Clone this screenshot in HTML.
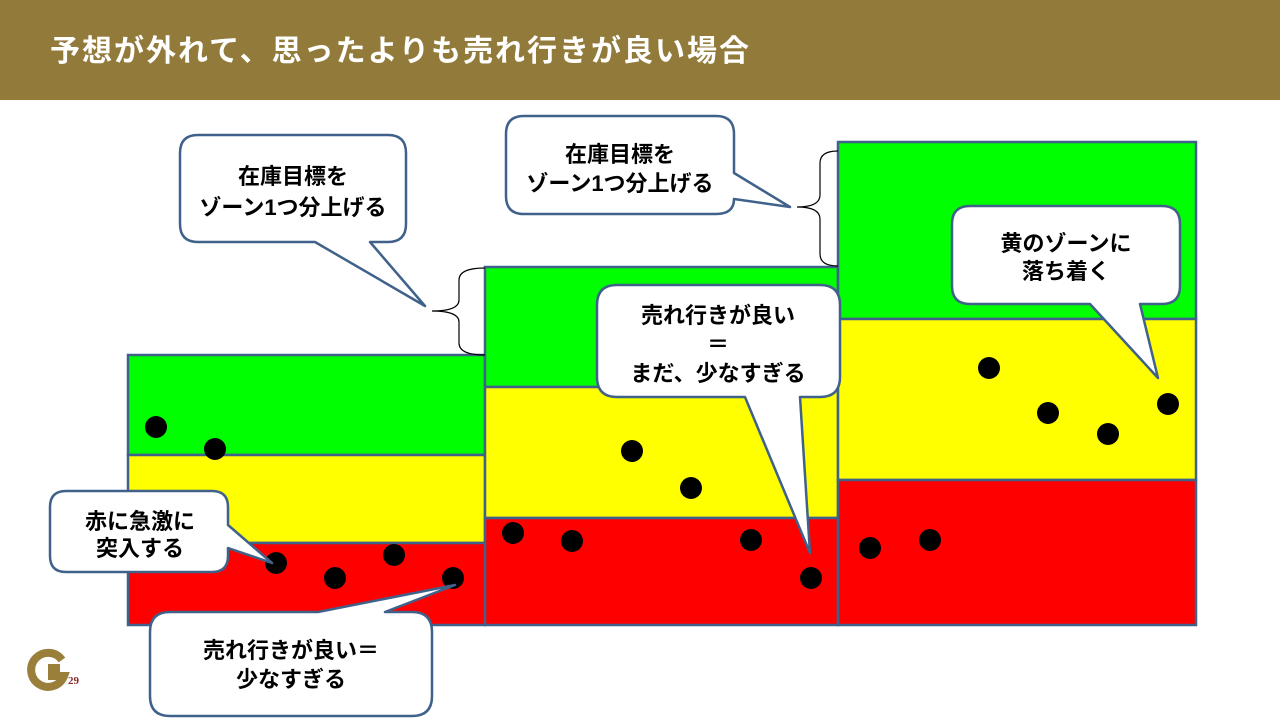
<!DOCTYPE html>
<html><head><meta charset="utf-8"><style>
html,body{margin:0;padding:0;background:#fff;}
svg{display:block;}
text{font-family:"Liberation Sans","Noto Sans CJK JP",sans-serif;font-weight:bold;}
</style></head><body>
<svg width="1280" height="720" viewBox="0 0 1280 720" xmlns="http://www.w3.org/2000/svg">
<rect x="0" y="0" width="1280" height="100" fill="#927a3b"/>
<text x="50" y="61" font-size="30" letter-spacing="2" fill="#fff">予想が外れて、思ったよりも売れ行きが良い場合</text>

<g stroke="#40618a" stroke-width="2.5">
<rect x="128" y="355" width="357" height="100" fill="#00ff00"/>
<rect x="128" y="455" width="357" height="88" fill="#ffff00"/>
<rect x="128" y="543" width="357" height="82" fill="#ff0000"/>
<rect x="485" y="267" width="353" height="120" fill="#00ff00"/>
<rect x="485" y="387" width="353" height="131" fill="#ffff00"/>
<rect x="485" y="518" width="353" height="107" fill="#ff0000"/>
<rect x="838" y="142" width="358" height="177" fill="#00ff00"/>
<rect x="838" y="319" width="358" height="161" fill="#ffff00"/>
<rect x="838" y="480" width="358" height="145" fill="#ff0000"/>
</g>

<g fill="#000">
<circle cx="156" cy="427" r="11"/><circle cx="215" cy="449" r="11"/><circle cx="276" cy="563" r="11"/>
<circle cx="335" cy="578" r="11"/><circle cx="394" cy="555" r="11"/><circle cx="453" cy="578" r="11"/>
<circle cx="513" cy="533" r="11"/><circle cx="572" cy="541" r="11"/><circle cx="632" cy="451" r="11"/>
<circle cx="691" cy="488" r="11"/><circle cx="751" cy="540" r="11"/><circle cx="811" cy="578" r="11"/>
<circle cx="870" cy="548" r="11"/><circle cx="930" cy="540" r="11"/><circle cx="989" cy="368" r="11"/>
<circle cx="1048" cy="413" r="11"/><circle cx="1108" cy="434" r="11"/><circle cx="1168" cy="404" r="11"/>
</g>

<g fill="none" stroke="#000" stroke-width="1.2">
<path d="M485,268 Q459,268 459,280 L459,300 Q459,311 432,311 Q459,311 459,322 L459,343 Q459,355 485,355"/>
<path d="M838,151 Q820,151 820,163 L820,195 Q820,207 797,207 Q820,207 820,219 L820,254 Q820,266 838,266"/>
</g>

<g fill="#fff" stroke="#40618a" stroke-width="2.5" stroke-linejoin="round">
<path d="M198,135 H388 Q406,135 406,153 V224 Q406,242 388,242 H370 L425,306 L315,242 H198 Q180,242 180,224 V153 Q180,135 198,135 Z"/>
<path d="M524,116 H716 Q734,116 734,134 V173 L790,207 L734,199 Q734,214 716,214 H524 Q506,214 506,196 V134 Q506,116 524,116 Z"/>
<path d="M617,285 H820 Q840,285 840,305 V377 Q840,397 820,397 H800 L810,553 L745,397 H617 Q597,397 597,377 V305 Q597,285 617,285 Z"/>
<path d="M970,206 H1162 Q1180,206 1180,224 V286 Q1180,304 1162,304 H1140 L1158,378 L1090,304 H970 Q952,304 952,286 V224 Q952,206 970,206 Z"/>
<path d="M66,491 H212 Q228,491 228,507 V525 L272,563 L228,548 V556 Q228,572 212,572 H66 Q50,572 50,556 V507 Q50,491 66,491 Z"/>
<path d="M170,612 H318 L455,585 L385,612 H412 Q432,612 432,632 V696 Q432,716 412,716 H170 Q150,716 150,696 V632 Q150,612 170,612 Z"/>
</g>

<g font-size="22" fill="#000" text-anchor="middle">
<text x="293" y="184">在庫目標を</text>
<text x="293" y="215">ゾーン1つ分上げる</text>
<text x="620" y="162">在庫目標を</text>
<text x="620" y="191">ゾーン1つ分上げる</text>
<text x="718" y="323">売れ行きが良い</text>
<text x="718" y="352">＝</text>
<text x="718" y="381">まだ、少なすぎる</text>
<text x="1066" y="251">黄のゾーンに</text>
<text x="1066" y="279">落ち着く</text>
<text x="140" y="529">赤に急激に</text>
<text x="140" y="556">突入する</text>
<text x="291" y="658">売れ行きが良い＝</text>
<text x="291" y="687">少なすぎる</text>
</g>

<path d="M62,660 A17,17 0 1 0 64,676 L52,676 L52,668 L60,668" fill="none" stroke="#9a7f3a" stroke-width="8"/>
<text x="68" y="684" font-size="11" fill="#8b2a2a" style="font-family:'Liberation Serif',serif">29</text>
</svg>
</body></html>
